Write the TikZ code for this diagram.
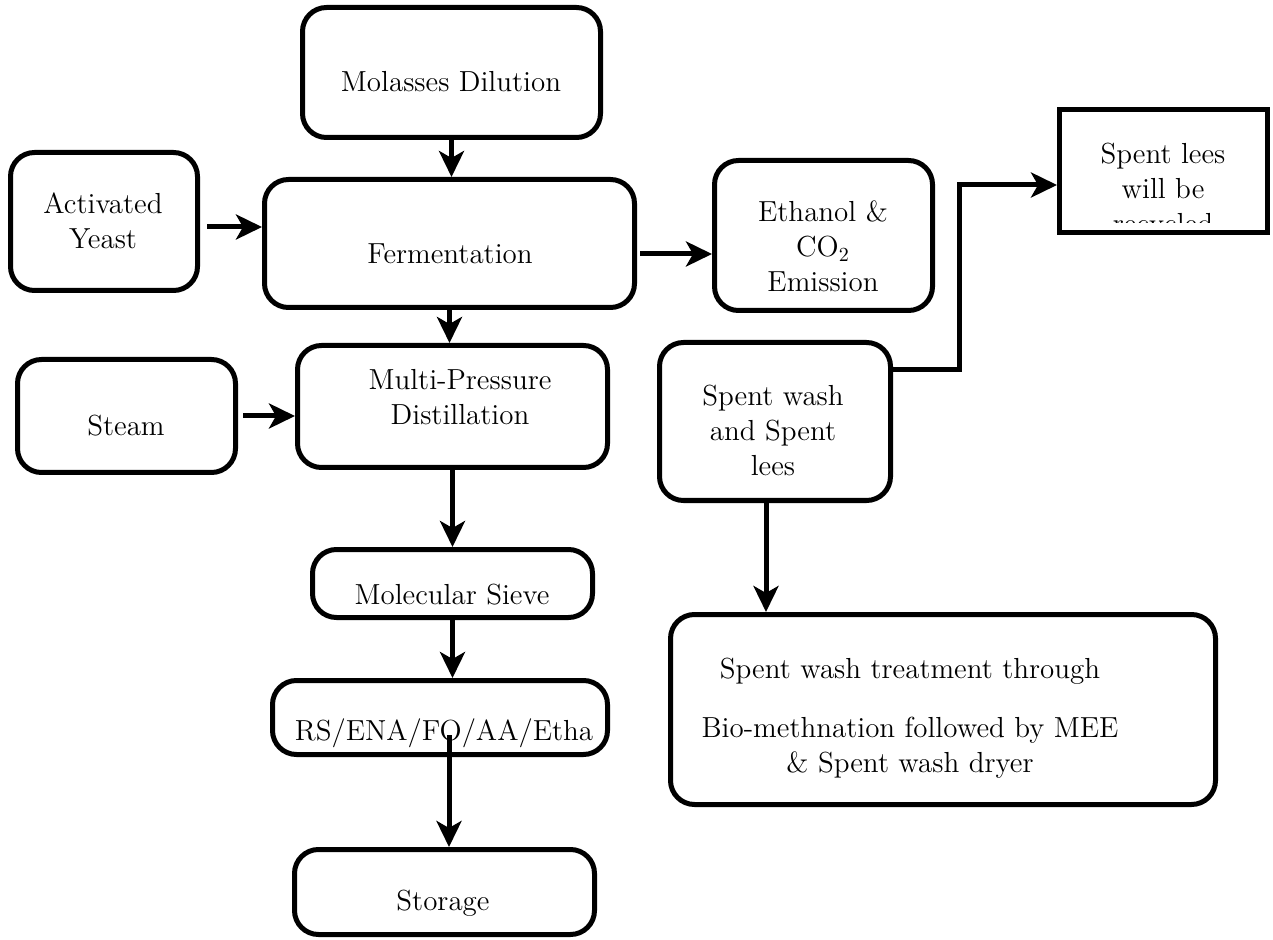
\documentclass[tikz,border=0pt]{standalone}
\usetikzlibrary{arrows.meta}

\begin{document}
\begin{tikzpicture}[->,>={Stealth[length=13pt,width=12.5pt,inset=3.5pt]},
                    x=0.5pt, y=-0.5pt, line width=2.5pt]
  \tikzstyle{proc}=[draw=black,rounded corners=12pt,inner sep=0pt]
  \tikzstyle{plainbox}=[draw=black,inner sep=0pt]
  \tikzstyle{txt}=[font=\fontsize{14.5}{17.5}\selectfont,align=center,inner sep=0pt]

  \useasboundingbox (0,0) rectangle (1273,940);

  % boxes
  \node[proc, minimum width=149pt, minimum height=65pt]   (mol)   at (451.5,72.5)  {};
  \node[proc, minimum width=93.5pt, minimum height=69pt]  (yeast) at (104,221.5)   {};
  \node[proc, minimum width=185pt, minimum height=64pt]   (ferm)  at (449.5,243.5) {};
  \node[proc, minimum width=109pt, minimum height=75pt]   (eth)   at (823.5,235.5) {};
  \node[plainbox, minimum width=104pt, minimum height=61.5pt] (lees) at (1163.5,171) {};
  \node[proc, minimum width=109pt, minimum height=56.5pt] (steam) at (126.5,416)   {};
  \node[proc, minimum width=155pt, minimum height=61pt]   (mpd)   at (452.5,406.5) {};
  \node[proc, minimum width=115.5pt, minimum height=79pt] (wash)  at (775,421.5)   {};
  \node[proc, minimum width=140pt, minimum height=34pt]   (sieve) at (452.5,583.5) {};
  \node[proc, minimum width=167.5pt, minimum height=37pt] (rs)    at (440,717.5)   {};
  \node[proc, minimum width=150pt, minimum height=42.5pt] (store) at (444.5,892)   {};
  \node[proc, minimum width=272.5pt, minimum height=95pt] (treat) at (943,709.5)   {};

  % texts
  \node[txt] (molT)   at (451,82)    {Molasses Dilution};
  \node[txt] (yeastT) at (103,221)   {Activated\\Yeast};
  \node[txt] (fermT)  at (450,254)   {Fermentation};
  \node[txt] (ethT)   at (823,246.5) {Ethanol \&\\CO$_2$\\Emission};
  \node[txt] (steamT) at (126,426)   {Steam};
  \node[txt] (mpdT)   at (460,397)   {Multi-Pressure\\Distillation};
  \node[txt] (washT)  at (773,430.5) {Spent wash\\and Spent\\lees};
  \node[txt] (rsT)    at (444,733)   {RS/ENA/FO/AA/Etha};
  \node[txt] (storeT) at (443,903)   {Storage};
  \node[txt] (treatT) at (910,718.5) {Spent wash treatment through\\[12pt]
                                      Bio-methnation followed by MEE\\
                                      \& Spent wash dryer};
  \begin{scope}
    \clip (1060,110) rectangle (1267,223);
    \node[txt] (leesT) at (1163,191.5) {Spent lees\\will be\\recycled};
  \end{scope}
  \begin{scope}
    \clip (312,549) rectangle (593,607);
    \node[txt] (sieveT) at (452,595) {Molecular Sieve};
  \end{scope}

  % arrows
  \coordinate (yeastout) at ([shift={(7,5.5)}]yeast.east);
  \coordinate (fermout)  at ([shift={(3,10.5)}]ferm.east);
  \coordinate (steamout) at ([shift={(5,0)}]steam.east);
  \coordinate (rsmid)    at ([shift={(9,17.5)}]rs.center);
  \coordinate (washout)  at ([shift={(0,-51.5)}]wash.east);
  \coordinate (leesin)   at ([shift={(0,14)}]lees.west);
  \coordinate (bend)     at (959,185);
  \coordinate (washdown) at ([shift={(-9,0)}]wash.south);

  \draw (mol.south) -- (mol.south |- ferm.north);
  \draw (yeastout) -- (yeastout -| ferm.west);
  \draw (fermout) -- (fermout -| eth.west);
  \draw (ferm.south) -- (ferm.south |- mpd.north);
  \draw (steamout) -- (steamout -| mpd.west);
  \draw (mpd.south) -- (sieve.north);
  \draw (sieve.south) -- (sieve.south |- rs.north);
  \draw (rsmid) -- (rsmid |- store.north);
  \draw (washout) -| (bend) -- (leesin);
  \draw (washdown) -- (washdown |- treat.north);
\end{tikzpicture}
\end{document}
